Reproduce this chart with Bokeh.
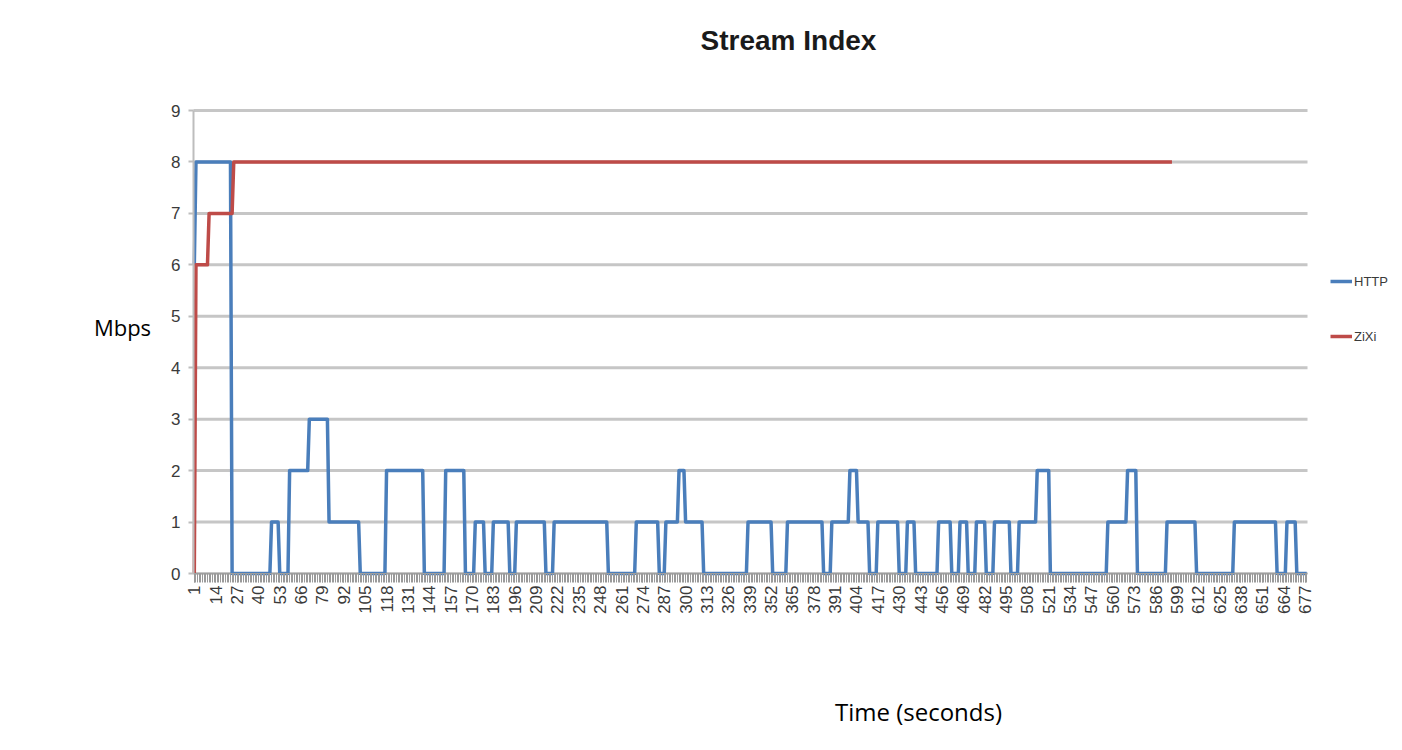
from bokeh.plotting import figure
from bokeh.models import (Range1d, FixedTicker, Legend, LegendItem, ColumnDataSource,
                          Label)
from bokeh.embed import file_html
from bokeh.resources import INLINE

# ---------------- data ----------------
title_text = "Stream Index"
y_label_text = "Mbps"
x_label_text = "Time (seconds)"

# tick labels on the category axis (every 13th second)
time_ticks = [1, 14, 27, 40, 53, 66, 79, 92, 105, 118, 131, 144, 157, 170, 183,
              196, 209, 222, 235, 248, 261, 274, 287, 300, 313, 326, 339, 352,
              365, 378, 391, 404, 417, 430, 443, 456, 469, 482, 495, 508, 521,
              534, 547, 560, 573, 586, 599, 612, 625, 638, 651, 664, 677]
mbps_ticks = [0, 1, 2, 3, 4, 5, 6, 7, 8, 9]
n_seconds = 678

# HTTP series: second at which the level changes, and the level from then on
http_change_at = [1, 2, 24, 48, 53, 59, 71, 83, 102, 118, 141, 154, 166, 172, 178,
                  183, 193, 197, 215, 220, 253, 270, 284, 288, 296, 300, 311, 338,
                  353, 362, 384, 389, 400, 405, 412, 417, 430, 435, 440, 454, 462,
                  467, 472, 477, 483, 488, 498, 503, 514, 522, 557, 569, 575, 593,
                  611, 634, 660, 666, 672]
http_levels = [6, 8, 0, 1, 0, 2, 3, 1, 0, 2, 0, 2, 0, 1, 0,
               1, 0, 1, 0, 1, 0, 1, 0, 1, 2, 1, 0, 1,
               0, 1, 0, 1, 2, 1, 0, 1, 0, 1, 0, 1, 0,
               1, 0, 1, 0, 1, 0, 1, 2, 0, 1, 2, 0, 1,
               0, 1, 0, 1, 0]
http_last_second = 678

# ZiXi series
zixi_change_at = [1, 2, 10, 25]
zixi_levels = [0, 6, 7, 8]
zixi_last_second = 596


def expand(change_at, levels, last):
    xs, ys = [], []
    k = 0
    for t in range(1, last + 1):
        while k + 1 < len(change_at) and change_at[k + 1] <= t:
            k += 1
        xs.append(t)
        ys.append(levels[k])
    return xs, ys


http_x, http_y = expand(http_change_at, http_levels, http_last_second)
zixi_x, zixi_y = expand(zixi_change_at, zixi_levels, zixi_last_second)

# ---------------- layout constants (pixels) ----------------
W, H = 1394, 742
AREA_LEFT, AREA_RIGHT = 193, 1307     # plot area in canvas pixels
AREA_TOP, AREA_BOTTOM = 110, 573
x_lo, x_hi = 0.5, n_seconds + 0.5
y_lo, y_hi = 0, 9
px_x = (AREA_RIGHT - AREA_LEFT) / (x_hi - x_lo)
px_y = (AREA_BOTTOM - AREA_TOP) / (y_hi - y_lo)
x_range = Range1d(x_lo - AREA_LEFT / px_x, x_hi + (W - AREA_RIGHT) / px_x)
y_range = Range1d(y_lo - (H - AREA_BOTTOM) / px_y, y_hi + AREA_TOP / px_y)

p = figure(width=W, height=H, output_backend="svg", toolbar_location=None,
           x_range=x_range, y_range=y_range,
           min_border_left=0, min_border_right=0,
           min_border_top=0, min_border_bottom=0)
p.outline_line_color = None
p.background_fill_color = "white"
p.border_fill_color = "white"
p.xgrid.grid_line_color = None
p.ygrid.grid_line_color = None

# horizontal gridlines across the plot area only
grid_src = ColumnDataSource(dict(x0=[x_lo] * len(mbps_ticks), x1=[x_hi] * len(mbps_ticks),
                                 y=mbps_ticks))
p.segment(x0="x0", y0="y", x1="x1", y1="y", source=grid_src,
          line_color="#c6c6c6", line_width=3)

# y axis, drawn at the left edge of the plot area
p.yaxis.fixed_location = x_lo
p.yaxis.bounds = (y_lo, y_hi)
p.yaxis.ticker = FixedTicker(ticks=mbps_ticks)
p.yaxis.axis_line_color = "#bdbdbd"
p.yaxis.axis_line_width = 2
p.yaxis.major_tick_line_color = "#bdbdbd"
p.yaxis.major_tick_line_width = 2
p.yaxis.major_tick_out = 5
p.yaxis.major_tick_in = 0
p.yaxis.minor_tick_line_color = None
p.yaxis.major_label_text_font = "Liberation Sans"
p.yaxis.major_label_text_font_size = "17px"
p.yaxis.major_label_text_color = "#3a3a3a"
p.yaxis.major_label_standoff = 8

# x axis (category-like), drawn at y = 0
p.xaxis.fixed_location = y_lo
p.xaxis.bounds = (x_lo, x_hi)
p.xaxis.ticker = FixedTicker(ticks=time_ticks, minor_ticks=list(range(1, n_seconds + 1)))
p.xaxis.axis_line_color = "#a0a0a0"
p.xaxis.axis_line_width = 1
p.xaxis.major_tick_line_color = "#9a9a9a"
p.xaxis.minor_tick_line_color = "#9a9a9a"
p.xaxis.major_tick_out = 9
p.xaxis.major_tick_in = 0
p.xaxis.minor_tick_out = 9
p.xaxis.minor_tick_in = 0
p.xaxis.major_label_orientation = 3.14159265 / 2
p.xaxis.major_label_text_font = "Liberation Sans"
p.xaxis.major_label_text_font_size = "17px"
p.xaxis.major_label_text_color = "#3a3a3a"
p.xaxis.major_label_standoff = 3

# lines
src_http = ColumnDataSource(dict(x=http_x, y=http_y))
src_zixi = ColumnDataSource(dict(x=zixi_x, y=zixi_y))
r_http = p.line("x", "y", source=src_http, line_color="#4a7ebb", line_width=3.5,
                line_join="round")
r_zixi = p.line("x", "y", source=src_zixi, line_color="#be4b48", line_width=3.5,
                line_join="round")

# legend, to the right of the plot area
legend = Legend(items=[LegendItem(label="HTTP", renderers=[r_http]),
                       LegendItem(label="ZiXi", renderers=[r_zixi])],
                location=(1330, H - 346), orientation="vertical",
                background_fill_alpha=0, border_line_alpha=0,
                padding=0, margin=0, spacing=35,
                glyph_width=22, glyph_height=20, label_height=20,
                label_standoff=2,
                label_text_font="Liberation Sans",
                label_text_font_size="13px", label_text_color="#3a3a3a")
p.add_layout(legend, "center")

# title and axis titles (screen units from the canvas' bottom-left)
p.add_layout(Label(x=788, y=H - 40, x_units="screen", y_units="screen",
                   text=title_text, text_align="center", text_baseline="middle",
                   text_font="Liberation Sans", text_font_style="bold",
                   text_font_size="28px", text_color="#1a1a1a"))
p.add_layout(Label(x=122, y=H - 326, x_units="screen", y_units="screen",
                   text=y_label_text, text_align="center", text_baseline="middle",
                   text_font="Open Sans", text_font_size="22px", text_color="black"))
p.add_layout(Label(x=918, y=H - 711, x_units="screen", y_units="screen",
                   text=x_label_text, text_align="center", text_baseline="middle",
                   text_font="Open Sans", text_font_size="24px", text_color="black"))

open("out.html", "w").write(file_html(p, INLINE))
